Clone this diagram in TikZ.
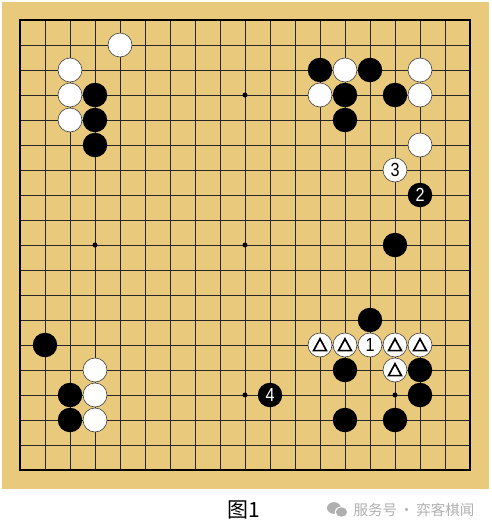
\documentclass[tikz,border=0pt]{standalone}
\usepackage{fontspec}
\setmainfont{Liberation Sans}
\newfontfamily\cjk{Noto Sans CJK SC}
\newfontfamily\digitfont[FakeStretch=0.85]{Liberation Sans}
\usetikzlibrary{calc}
\definecolor{board}{RGB}{233,202,124}
\definecolor{wm}{RGB}{175,175,175}
\tikzset{
  bstone/.style={circle,fill=black,minimum size=24.5pt,inner sep=0pt,text=white,font=\digitfont\fontsize{19}{19}\selectfont},
  wstone/.style={circle,fill=white,draw=black!75,line width=0.6pt,minimum size=24pt,inner sep=0pt,text=black,font=\digitfont\fontsize{19}{19}\selectfont},
  grid/.style={line width=0.9pt,black!85},
  border/.style={line width=2.2pt,black},
  star/.style={circle,fill=black,minimum size=5pt,inner sep=0pt},
  tri/.style={line width=1.7pt,black,line join=miter},
}
\newcommand{\gostone}[5]{\node[#1] (#2) at ({20+25*#3},{20+25*#4}) {#5};}
\newcommand{\trimark}[1]{\draw[tri] ($(#1)+(0,-6.2)$) -- ($(#1)+(6.4,5.6)$) -- ($(#1)+(-6.4,5.6)$) -- cycle;}
\begin{document}
\begin{tikzpicture}[x=1pt,y=-1pt]
\useasboundingbox (0,0) rectangle (491,531);
\fill[white] (0,0) rectangle (491,531);
\fill[board] (2,2) rectangle (489,489);
% grid
\foreach \i in {1,...,17} {
  \draw[grid] ({20+25*\i},20) -- ({20+25*\i},470);
  \draw[grid] (20,{20+25*\i}) -- (470,{20+25*\i});
}
\draw[border] (20,20) rectangle (470,470);
% star points
\foreach \c/\r [count=\k] in {3/3,9/3,15/3,3/9,9/9,15/9,3/15,9/15,15/15}
  \node[star] (sp\k) at ({20+25*\c},{20+25*\r}) {};
% upper left
\gostone{wstone}{w01}{4}{1}{}
\gostone{wstone}{w02}{2}{2}{}
\gostone{wstone}{w03}{2}{3}{}
\gostone{wstone}{w04}{2}{4}{}
\gostone{bstone}{b01}{3}{3}{}
\gostone{bstone}{b02}{3}{4}{}
\gostone{bstone}{b03}{3}{5}{}
% upper right
\gostone{bstone}{b04}{12}{2}{}
\gostone{wstone}{w05}{13}{2}{}
\gostone{bstone}{b05}{14}{2}{}
\gostone{wstone}{w06}{16}{2}{}
\gostone{wstone}{w07}{12}{3}{}
\gostone{bstone}{b06}{13}{3}{}
\gostone{bstone}{b07}{15}{3}{}
\gostone{wstone}{w08}{16}{3}{}
\gostone{bstone}{b08}{13}{4}{}
\gostone{wstone}{w09}{16}{5}{}
\gostone{wstone}{m3}{15}{6}{3}
\gostone{bstone}{m2}{16}{7}{2}
\gostone{bstone}{b09}{15}{9}{}
% lower right
\gostone{bstone}{b10}{14}{12}{}
\gostone{wstone}{t1}{12}{13}{}
\gostone{wstone}{t2}{13}{13}{}
\gostone{wstone}{m1}{14}{13}{1}
\gostone{wstone}{t3}{15}{13}{}
\gostone{wstone}{t4}{16}{13}{}
\gostone{bstone}{b11}{13}{14}{}
\gostone{wstone}{t5}{15}{14}{}
\gostone{bstone}{b12}{16}{14}{}
\gostone{bstone}{b13}{16}{15}{}
\gostone{bstone}{b14}{13}{16}{}
\gostone{bstone}{b15}{15}{16}{}
\gostone{bstone}{m4}{10}{15}{4}
\trimark{t1}\trimark{t2}\trimark{t3}\trimark{t4}\trimark{t5}
% lower left
\gostone{bstone}{b16}{1}{13}{}
\gostone{wstone}{w10}{3}{14}{}
\gostone{bstone}{b17}{2}{15}{}
\gostone{wstone}{w11}{3}{15}{}
\gostone{bstone}{b18}{2}{16}{}
\gostone{wstone}{w12}{3}{16}{}
% caption
\node[font=\cjk\fontsize{21}{21}\selectfont] (cap) at (244,510) {图1};
% watermark
\fill[wm] (334,508) ellipse (7pt and 5.8pt);
\fill[white] (341.5,512) ellipse (6.6pt and 5.6pt);
\fill[wm] (341.5,512) ellipse (5.6pt and 4.7pt);
\node[font=\cjk\fontsize{14.5}{14.5}\selectfont,text=wm,anchor=west] (wmtext) at (350,510) {服务号{\,}·{\,}弈客棋闻};
\end{tikzpicture}
\end{document}
